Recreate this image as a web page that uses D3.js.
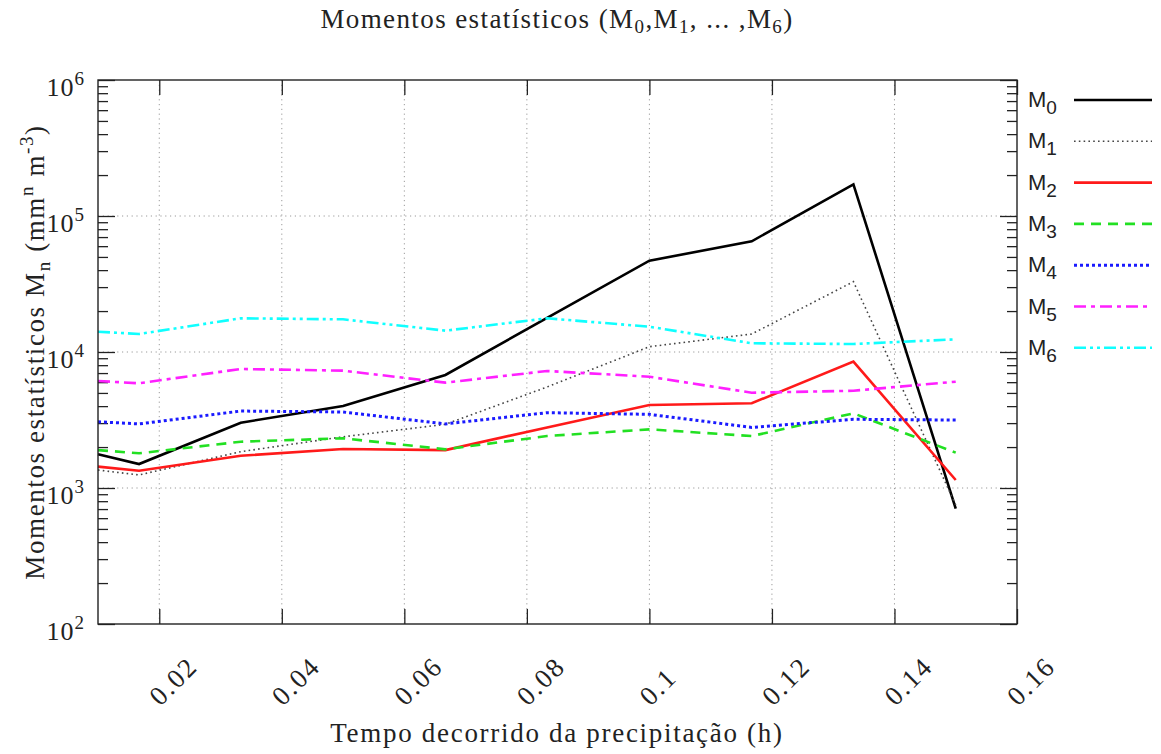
<!DOCTYPE html>
<html>
<head>
<meta charset="utf-8">
<script src="https://cdn.jsdelivr.net/npm/d3@7"></script>
<style>
  html, body { margin: 0; padding: 0; background: #fff; }
  svg { display: block; }
  .serif { font-family: "Liberation Serif", "DejaVu Serif", serif; fill: #222; }
  .sans { font-family: "Liberation Sans", Arial, sans-serif; fill: #222; }
</style>
</head>
<body>
<svg id="chart" width="1161" height="754"></svg>
<script>
// Elapsed time of the precipitation event (hours)
const times = [0.0100, 0.0167, 0.0333, 0.0500, 0.0667, 0.0833, 0.1000, 0.1167, 0.1333, 0.1500];

// Statistical moments M0..M6 (mm^n m^-3)
const m0 = [1770, 1500, 3020, 4010, 6780, 17800, 46900, 65200, 171000, 706];
const m1 = [1355, 1247, 1850, 2380, 2940, 5530, 10940, 13560, 32900, 750];
const m2 = [1435, 1341, 1728, 1935, 1900, 2790, 4075, 4200, 8490, 1145];
const m3 = [1900, 1800, 2190, 2320, 1925, 2410, 2700, 2410, 3540, 1820];
const m4 = [3070, 2960, 3680, 3620, 2960, 3580, 3480, 2790, 3200, 3160];
const m5 = [6120, 5890, 7500, 7290, 5950, 7250, 6580, 5020, 5190, 6050];
const m6 = [14100, 13560, 17690, 17390, 14350, 17690, 15350, 11590, 11450, 12390];

const seriesNames = ["0", "1", "2", "3", "4", "5", "6"];
const seriesValues = [m0, m1, m2, m3, m4, m5, m6];

// Tick values
const xTicks = [0.02, 0.04, 0.06, 0.08, 0.1, 0.12, 0.14, 0.16];
const xTickLabels = ["0.02", "0.04", "0.06", "0.08", "0.1", "0.12", "0.14", "0.16"];
const yTicks = [1e2, 1e3, 1e4, 1e5, 1e6];
const yTickExponents = ["2", "3", "4", "5", "6"];

// Line style per moment
const styles = [
  { color: "#000000", width: 2.6, dash: null },
  { color: "#444444", width: 1.6, dash: "1.6,3.2" },
  { color: "#ff1a1a", width: 2.6, dash: null },
  { color: "#22e022", width: 2.6, dash: "10,7" },
  { color: "#1a1aff", width: 3.0, dash: "3,3" },
  { color: "#ff20ff", width: 2.6, dash: "12,5,4,5" },
  { color: "#10ffff", width: 2.6, dash: "12,4,3,4,3,4" }
];

const plotLeft = 98, plotRight = 1017, plotTop = 80, plotBottom = 624;

const svg = d3.select("#chart");

const x = d3.scaleLinear().domain([0.01, 0.16]).range([plotLeft, plotRight]);
const y = d3.scaleLog().domain([1e2, 1e6]).range([plotBottom, plotTop]);

// Minor log ticks 2..9 in each decade
const minorTicks = [];
for (let d = 2; d < 6; d++) {
  for (let k = 2; k <= 9; k++) minorTicks.push(k * Math.pow(10, d));
}

// Grid
const grid = svg.append("g").attr("stroke", "#9a9a9a").attr("stroke-width", 1)
  .attr("stroke-dasharray", "1.2,3.6");
grid.selectAll("line.gx").data(xTicks.filter(v => v < 0.159)).join("line")
  .attr("class", "gx")
  .attr("x1", d => x(d)).attr("x2", d => x(d)).attr("y1", plotTop).attr("y2", plotBottom);
grid.selectAll("line.gy").data([1e3, 1e4, 1e5]).join("line")
  .attr("class", "gy")
  .attr("x1", plotLeft).attr("x2", plotRight).attr("y1", d => y(d)).attr("y2", d => y(d));

// Axes (ticks pointing inward, mirrored on all sides)
function styleAxis(g) {
  g.select(".domain").remove();
  g.selectAll(".tick text").remove();
  g.selectAll(".tick line").attr("stroke", "#222").attr("stroke-width", 1.3);
}
svg.append("g").attr("transform", `translate(0,${plotBottom})`)
  .call(d3.axisBottom(x).tickValues(xTicks).tickSize(-15)).call(styleAxis);
svg.append("g").attr("transform", `translate(0,${plotTop})`)
  .call(d3.axisTop(x).tickValues(xTicks).tickSize(-15)).call(styleAxis);
svg.append("g").attr("transform", `translate(${plotLeft},0)`)
  .call(d3.axisLeft(y).tickValues(yTicks).tickSize(-17)).call(styleAxis);
svg.append("g").attr("transform", `translate(${plotLeft},0)`)
  .call(d3.axisLeft(y).tickValues(minorTicks).tickSize(-10)).call(styleAxis);
svg.append("g").attr("transform", `translate(${plotRight},0)`)
  .call(d3.axisRight(y).tickValues(yTicks).tickSize(-17)).call(styleAxis);
svg.append("g").attr("transform", `translate(${plotRight},0)`)
  .call(d3.axisRight(y).tickValues(minorTicks).tickSize(-10)).call(styleAxis);

// Series lines
const line = d3.line().x((d, i) => x(times[i])).y(d => y(d));
seriesValues.forEach((vals, i) => {
  const s = styles[i];
  svg.append("path").datum(vals)
    .attr("d", line)
    .attr("fill", "none")
    .attr("stroke", s.color)
    .attr("stroke-width", s.width)
    .attr("stroke-linejoin", "miter")
    .attr("stroke-dasharray", s.dash);
});

// Plot border
svg.append("rect").attr("x", plotLeft).attr("y", plotTop)
  .attr("width", plotRight - plotLeft).attr("height", plotBottom - plotTop)
  .attr("fill", "none").attr("stroke", "#222").attr("stroke-width", 1.4);

// X tick labels (rotated, starting just below each tick)
svg.append("g").selectAll("text").data(xTicks).join("text")
  .attr("class", "serif")
  .attr("font-size", 27)
  .attr("letter-spacing", 2)
  .attr("text-anchor", "start")
  .attr("transform", d => `translate(${x(d) + 1},${707}) rotate(-45)`)
  .text((d, i) => xTickLabels[i]);

// Y tick labels: 10 with superscript exponent
const yl = svg.append("g").selectAll("text").data(yTicks).join("text")
  .attr("class", "serif")
  .attr("font-size", 26)
  .attr("letter-spacing", 1)
  .attr("text-anchor", "end")
  .attr("x", plotLeft - 13)
  .attr("y", d => y(d) + 16);
yl.append("tspan").text("10");
yl.append("tspan").attr("font-size", 19).attr("dy", -11).text((d, i) => yTickExponents[i]);

// Title
const title = svg.append("text").attr("class", "serif").attr("font-size", 27)
  .attr("letter-spacing", 1.4)
  .attr("x", 557).attr("y", 28).attr("text-anchor", "middle");
title.append("tspan").text("Momentos estatísticos (M");
title.append("tspan").attr("font-size", 19).attr("dy", 5).text("0");
title.append("tspan").attr("dy", -5).text(",M");
title.append("tspan").attr("font-size", 19).attr("dy", 5).text("1");
title.append("tspan").attr("dy", -5).text(", ... ,M");
title.append("tspan").attr("font-size", 19).attr("dy", 5).text("6");
title.append("tspan").attr("dy", -5).text(")");

// X axis title
svg.append("text").attr("class", "serif").attr("font-size", 27)
  .attr("letter-spacing", 1.7)
  .attr("x", 557).attr("y", 742).attr("text-anchor", "middle")
  .text("Tempo decorrido da precipitação (h)");

// Y axis title
const ylab = svg.append("text").attr("class", "serif").attr("font-size", 27)
  .attr("letter-spacing", 1.6)
  .attr("text-anchor", "middle")
  .attr("transform", "translate(44,352) rotate(-90)");
ylab.append("tspan").text("Momentos estatísticos M");
ylab.append("tspan").attr("font-size", 19).attr("dy", 6).text("n");
ylab.append("tspan").attr("dy", -6).text(" (mm");
ylab.append("tspan").attr("font-size", 19).attr("dy", -11).text("n");
ylab.append("tspan").attr("dy", 11).text(" m");
ylab.append("tspan").attr("font-size", 19).attr("dy", -11).text("-3");
ylab.append("tspan").attr("dy", 11).text(")");

// Legend
const legend = svg.append("g");
seriesNames.forEach((name, i) => {
  const ly = 100 + i * 41.3;
  const t = legend.append("text").attr("class", "sans").attr("font-size", 22)
    .attr("x", 1028).attr("y", ly + 7);
  t.append("tspan").text("M");
  t.append("tspan").attr("font-size", 19).attr("dy", 7).text(name);
  const s = styles[i];
  legend.append("line")
    .attr("x1", 1074).attr("x2", 1152).attr("y1", ly).attr("y2", ly)
    .attr("stroke", s.color).attr("stroke-width", s.width)
    .attr("stroke-dasharray", s.dash);
});
</script>
</body>
</html>
